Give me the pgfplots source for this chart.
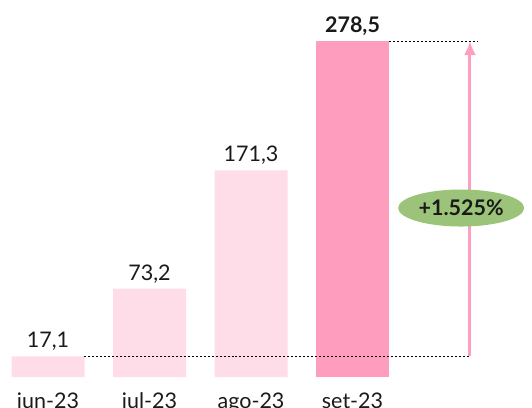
\documentclass[border=0pt]{standalone}
\usepackage{pgfplots}
\pgfplotsset{compat=1.18}
\usetikzlibrary{arrows.meta,shapes.geometric}
\usepackage{fontspec}
\setmainfont{Lato}
\definecolor{lightpink}{HTML}{FFDDE8}
\definecolor{darkpink}{HTML}{FF9DBE}
\definecolor{arrowpink}{HTML}{FF9EC0}
\definecolor{pillgreen}{HTML}{9BC47A}
\definecolor{inktext}{HTML}{1A1A1A}

\begin{document}
\begin{tikzpicture}
\begin{axis}[
x=101.5bp, y=1.2065bp,
xmin=-0.473, xmax=4.768,
ymin=0, ymax=312.5,
ybar, bar width=73bp, bar shift=0pt,
axis line style={draw=none},
major tick length=0pt,
ytick=\empty,
xtick={0,1,2,3},
xticklabels={jun-23,jul-23,ago-23,set-23},
xticklabel style={font=\fontsize{21.5bp}{24bp}\selectfont, text=inktext, yshift=-12bp},
clip=false,
nodes near coords,
nodes near coords style={font=\fontsize{21.5bp}{24bp}\selectfont, text=inktext, yshift=2bp,
  /pgf/number format/assume math mode=true,
  /pgf/number format/fixed, /pgf/number format/fixed zerofill,
  /pgf/number format/precision=1, /pgf/number format/use comma},
]
\addplot[fill=lightpink, draw=none] coordinates {(0,17.1) (1,73.2) (2,171.3)};
\addplot[fill=darkpink, draw=none, nodes near coords style={font=\fontsize{21.5bp}{24bp}\selectfont\bfseries}] coordinates {(3,278.5)};

\draw[black, line width=0.6pt, dash pattern=on 2pt off 2pt] (axis cs:0.355,17.1) -- (axis cs:4.16,17.1);
\draw[black, line width=0.6pt, dash pattern=on 2pt off 2pt] (axis cs:3.36,278.5) -- (axis cs:4.23,278.5);
\draw[arrowpink, line width=3bp, -{Latex[length=14bp,width=12bp]}] (axis cs:4.157,17.1) -- (axis cs:4.157,278.5);
\node[fill=pillgreen, ellipse, minimum width=126bp, minimum height=37bp, inner sep=0pt,
  font=\fontsize{21.5bp}{24bp}\selectfont\bfseries, text=inktext] at (axis cs:4.07,140.1) {+1.525\%};
\end{axis}
\pgfresetboundingbox
\path[use as bounding box] ([yshift=-30bp]current axis.south west) rectangle (current axis.north east);
\end{tikzpicture}
\end{document}
